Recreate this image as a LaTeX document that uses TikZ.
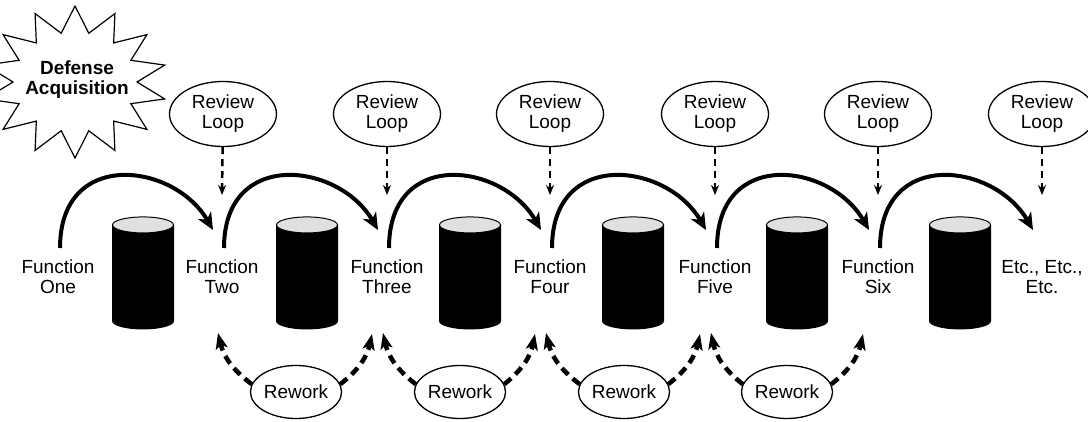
\documentclass[tikz,border=0pt]{standalone}
\usepackage{fontspec}
\setmainfont{Liberation Sans}
\usetikzlibrary{shapes.geometric,arrows.meta}
\begin{document}
\begin{tikzpicture}[x=1pt,y=1pt]

\tikzstyle{funcstyle} = [align=center,font=\fontsize{19}{20}\selectfont,inner sep=2]
\tikzstyle{burststyle} = [draw,line width=1.2]
\tikzstyle{reviewstyle} = [draw,ellipse,line width=1.3,align=center,font=\fontsize{19}{20}\selectfont,inner sep=0,minimum width=107,minimum height=65]
\tikzstyle{reworkstyle} = [draw,ellipse,line width=1.3,font=\fontsize{19}{20}\selectfont,inner sep=0,minimum width=88,minimum height=53]
\tikzstyle{storestyle} = [cylinder,shape border rotate=90,aspect=2.4,draw,line width=1,minimum width=61,minimum height=112,cylinder uses custom fill,cylinder body fill=black,cylinder end fill=black!12]
\tikzstyle{flow_arrow_edge} = [-{Stealth[length=17pt,width=15pt,inset=5pt]}, line width=4pt]
\tikzstyle{review_arrow_edge} = [-{Stealth[length=10pt,width=8pt]}, line width=2.5pt, dash pattern=on 7pt off 5pt]
\tikzstyle{rework_arrow_edge} = [-{Stealth[length=16pt,width=12pt,inset=4pt]}, line width=4.5pt, dash pattern=on 9pt off 6pt]

\useasboundingbox (0,0) rectangle (1088,-422);
\clip (0,0) rectangle (1088,-422);

% starburst
\draw [burststyle, shift={(75,-82)}] (90:92 and 76) \foreach \k in {0,...,13} { -- ({102.857+\k*25.714}:62 and 50) -- ({115.714+\k*25.714}:92 and 76) } -- cycle;
\node [font=\bfseries\fontsize{19}{20}\selectfont, align=center] (burst) at (77,-80) {Defense\\Acquisition};

\node [funcstyle] (fn1) at (58,-277) {Function\\One};
\node [funcstyle] (fn2) at (222,-277) {Function\\Two};
\node [funcstyle] (fn3) at (387,-277) {Function\\Three};
\node [funcstyle] (fn4) at (550,-277) {Function\\Four};
\node [funcstyle] (fn5) at (715,-277) {Function\\Five};
\node [funcstyle] (fn6) at (878,-277) {Function\\Six};
\node [funcstyle] (fn7) at (1042,-277) {Etc., Etc.,\\Etc.};

\node [storestyle] (cy1) at (143,-279) {};
\node [storestyle] (cy2) at (307,-279) {};
\node [storestyle] (cy3) at (470,-279) {};
\node [storestyle] (cy4) at (633,-279) {};
\node [storestyle] (cy5) at (797,-279) {};
\node [storestyle] (cy6) at (960,-279) {};

\node [reviewstyle] (rv1) at (223,-114) {Review\\Loop};
\node [reviewstyle] (rv2) at (387,-114) {Review\\Loop};
\node [reviewstyle] (rv3) at (550,-114) {Review\\Loop};
\node [reviewstyle] (rv4) at (715,-114) {Review\\Loop};
\node [reviewstyle] (rv5) at (878,-114) {Review\\Loop};
\node [reviewstyle] (rv6) at (1042,-114) {Review\\Loop};

\node [reworkstyle] (rw1) at (296,-392) {Rework};
\node [reworkstyle] (rw2) at (460,-392) {Rework};
\node [reworkstyle] (rw3) at (624,-392) {Rework};
\node [reworkstyle] (rw4) at (787,-392) {Rework};

\draw [flow_arrow_edge] ([xshift=2pt,yshift=29pt]fn1.center) .. controls +(90:100) and +(120:78) .. ([xshift=-9pt,yshift=47pt]fn2.center);
\draw [flow_arrow_edge] ([xshift=2pt,yshift=29pt]fn2.center) .. controls +(90:100) and +(120:78) .. ([xshift=-9pt,yshift=47pt]fn3.center);
\draw [flow_arrow_edge] ([xshift=2pt,yshift=29pt]fn3.center) .. controls +(90:100) and +(120:78) .. ([xshift=-9pt,yshift=47pt]fn4.center);
\draw [flow_arrow_edge] ([xshift=2pt,yshift=29pt]fn4.center) .. controls +(90:100) and +(120:78) .. ([xshift=-9pt,yshift=47pt]fn5.center);
\draw [flow_arrow_edge] ([xshift=2pt,yshift=29pt]fn5.center) .. controls +(90:100) and +(120:78) .. ([xshift=-9pt,yshift=47pt]fn6.center);
\draw [flow_arrow_edge] ([xshift=2pt,yshift=29pt]fn6.center) .. controls +(90:100) and +(120:78) .. ([xshift=-9pt,yshift=47pt]fn7.center);

\draw [review_arrow_edge] (rv1) -- ([yshift=82pt]fn2.center);
\draw [review_arrow_edge] (rv2) -- ([yshift=82pt]fn3.center);
\draw [review_arrow_edge] (rv3) -- ([yshift=82pt]fn4.center);
\draw [review_arrow_edge] (rv4) -- ([yshift=82pt]fn5.center);
\draw [review_arrow_edge] (rv5) -- ([yshift=82pt]fn6.center);
\draw [review_arrow_edge] (rv6) -- ([yshift=82pt]fn7.center);

\draw [rework_arrow_edge] (rw1.170) to[bend left=20] ([xshift=-4pt,yshift=-56pt]fn2.center);
\draw [rework_arrow_edge] (rw1.10) to[bend right=20] ([xshift=-15pt,yshift=-57pt]fn3.center);
\draw [rework_arrow_edge] (rw2.170) to[bend left=20] ([xshift=-4pt,yshift=-56pt]fn3.center);
\draw [rework_arrow_edge] (rw2.10) to[bend right=20] ([xshift=-15pt,yshift=-57pt]fn4.center);
\draw [rework_arrow_edge] (rw3.170) to[bend left=20] ([xshift=-4pt,yshift=-56pt]fn4.center);
\draw [rework_arrow_edge] (rw3.10) to[bend right=20] ([xshift=-15pt,yshift=-57pt]fn5.center);
\draw [rework_arrow_edge] (rw4.170) to[bend left=20] ([xshift=-4pt,yshift=-56pt]fn5.center);
\draw [rework_arrow_edge] (rw4.10) to[bend right=20] ([xshift=-15pt,yshift=-57pt]fn6.center);
\end{tikzpicture}
\end{document}
